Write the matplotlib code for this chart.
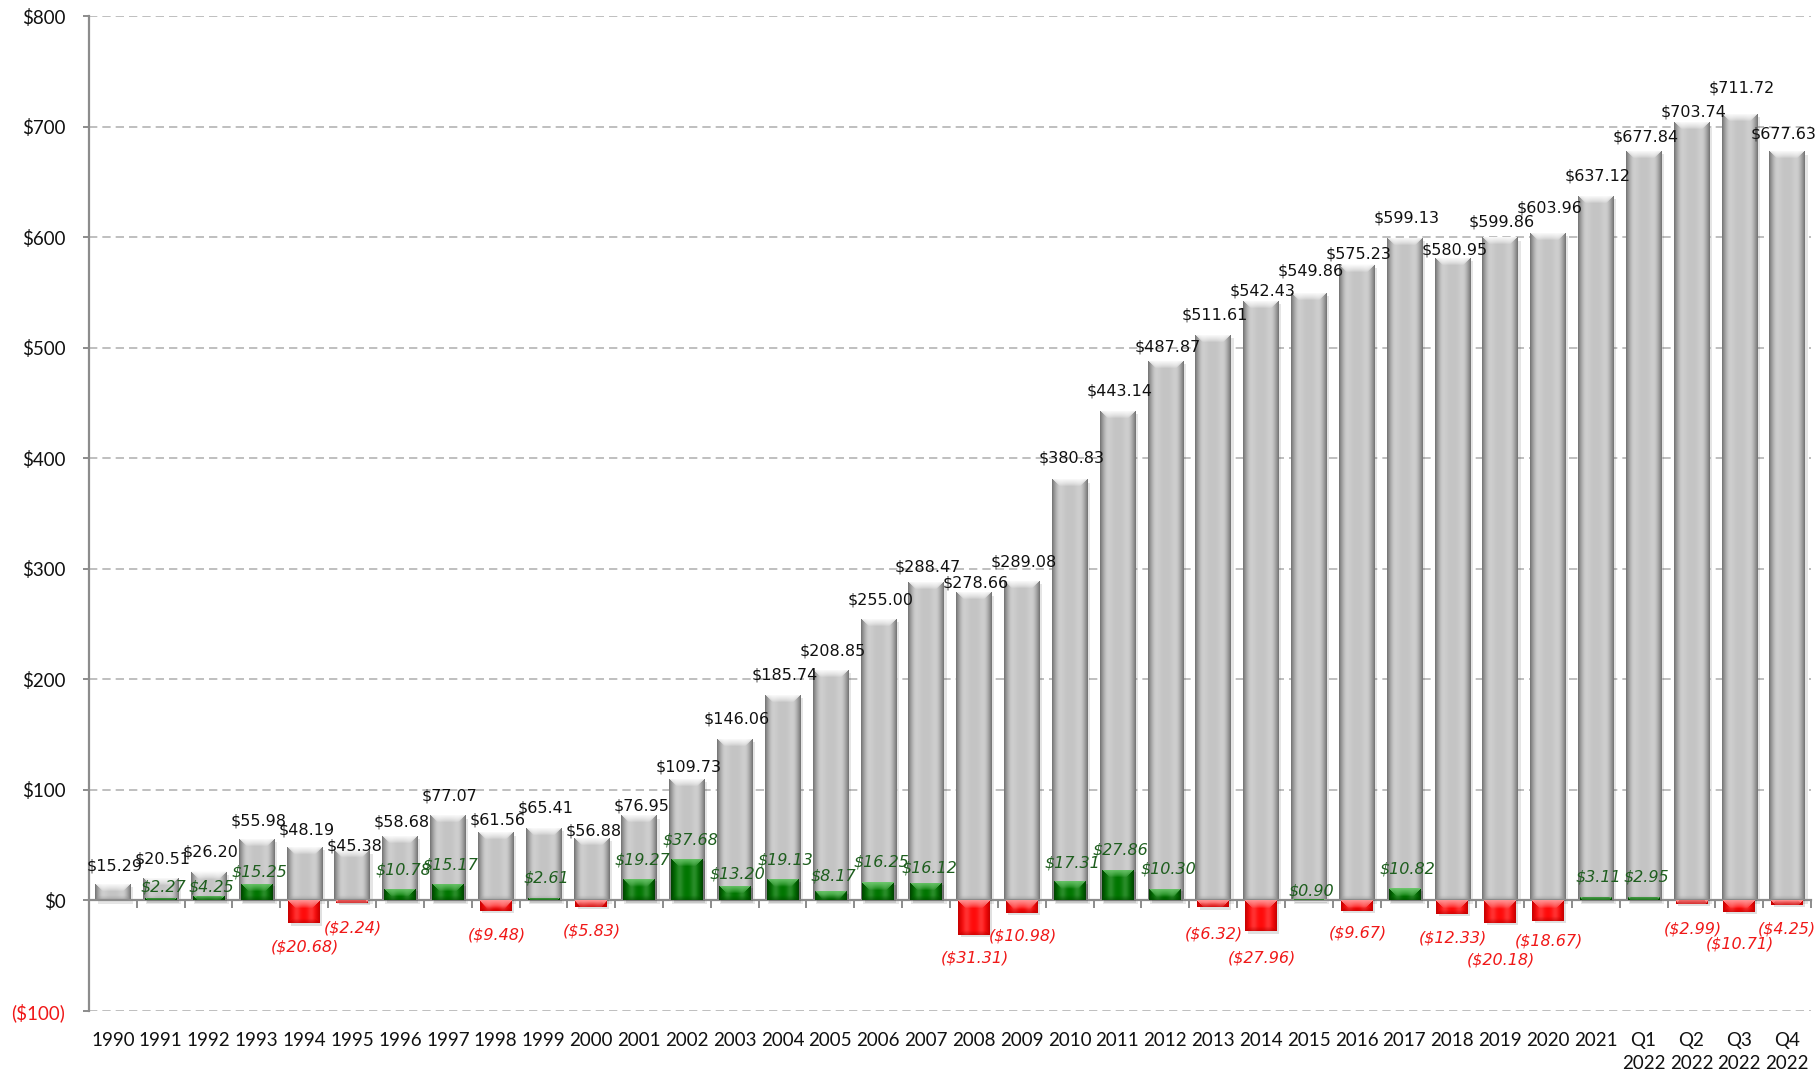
import numpy as np
import matplotlib
matplotlib.use("Agg")
import matplotlib.pyplot as plt
from matplotlib.ticker import FuncFormatter, FixedLocator

# ---------------- data ----------------
categories = ["1990", "1991", "1992", "1993", "1994", "1995", "1996", "1997", "1998", "1999",
              "2000", "2001", "2002", "2003", "2004", "2005", "2006", "2007", "2008", "2009",
              "2010", "2011", "2012", "2013", "2014", "2015", "2016", "2017", "2018", "2019",
              "2020", "2021", "Q1\n2022", "Q2\n2022", "Q3\n2022", "Q4\n2022"]
totals = [15.29, 20.51, 26.20, 55.98, 48.19, 45.38, 58.68, 77.07, 61.56, 65.41,
          56.88, 76.95, 109.73, 146.06, 185.74, 208.85, 255.00, 288.47, 278.66, 289.08,
          380.83, 443.14, 487.87, 511.61, 542.43, 549.86, 575.23, 599.13, 580.95, 599.86,
          603.96, 637.12, 677.84, 703.74, 711.72, 677.63]
changes = [np.nan, 2.27, 4.25, 15.25, -20.68, -2.24, 10.78, 15.17, -9.48, 2.61,
           -5.83, 19.27, 37.68, 13.20, 19.13, 8.17, 16.25, 16.12, -31.31, -10.98,
           17.31, 27.86, 10.30, -6.32, -27.96, 0.90, -9.67, 10.82, -12.33, -20.18,
           -18.67, 3.11, 2.95, -2.99, -10.71, -4.25]
y_ticks = [-100, 0, 100, 200, 300, 400, 500, 600, 700, 800]

# label gaps (pixels) from bar end to label centre, mimicking the reference's staggered labels
total_label_gap_px = [18, 19, 19, 18, 17, 4, 14, 19, 12, 20,
                      7, 9, 12, 20, 20, 19, 19, 15, 9, 19,
                      21, 20, 14, 20, 10, 22, 10, 20, 8, 15,
                      25, 20, 14, 10, 26, 17]
change_label_gap_px = [0, 11, 9, 12, 24, 25, 19, 19, 24, 20,
                       24, 19, 19, 12, 19, 15, 20, 15, 23, 23,
                       18, 20, 20, 27, 27, 8, 22, 19, 24, 37,
                       20, 20, 20, 25, 32, 24]

# ---------------- figure ----------------
W, H = 1818, 1072
fig = plt.figure(figsize=(W / 100, H / 100), dpi=100)
ax = fig.add_axes([89 / W, 1 - 1011 / H, (1811 - 89) / W, (1011 - 16) / H])
n = len(categories)
x = np.arange(n)
ax.set_xlim(-0.5, n - 0.5)
ax.set_ylim(-100, 800)
ax.set_autoscale_on(False)
PX2PT = 72 / 100

# grid
for v in y_ticks:
    if v != 0:
        ax.axhline(v, color="#b4b4b4", lw=1.2, ls=(0, (5, 3)), zorder=0.5)

GRAY = dict(base=np.array([196, 196, 196]) / 255, light=np.array([255, 255, 255]) / 255,
            dark=np.array([112, 112, 112]) / 255, bottom=np.array([150, 150, 150]) / 255)
GREEN = dict(base=np.array([0, 118, 0]) / 255, light=np.array([110, 200, 110]) / 255,
             dark=np.array([0, 65, 0]) / 255, bottom=np.array([0, 75, 0]) / 255)
RED = dict(base=np.array([255, 10, 10]) / 255, light=np.array([255, 150, 150]) / 255,
           dark=np.array([195, 0, 0]) / 255, bottom=np.array([185, 0, 0]) / 255)


def bevel_image(wpx, hpx, pal, bw=8.0):
    wpx = max(int(round(wpx)), 2)
    hpx = max(int(round(hpx)), 1)
    xs = np.arange(wpx) + 0.5
    ys = np.arange(hpx) + 0.5
    X, Y = np.meshgrid(xs, ys)
    dside = np.minimum(X, wpx - X)
    dtop = Y
    dbot = hpx - Y
    img = np.tile(pal["base"], (hpx, wpx, 1)).astype(float)
    s = np.clip(1 - dside / (bw * 0.9), 0, 1) ** 1.5
    img = img * (1 - s[..., None]) + pal["dark"] * s[..., None]
    band = np.exp(-((dside - bw * 1.1) / (bw * 0.45)) ** 2) * 0.16
    img = img * (1 - band[..., None]) + 1.0 * band[..., None]
    top_mask = (dtop < bw) & (dtop <= dside)
    t = np.clip(1 - dtop / bw, 0, 1) ** 0.7
    tt = np.where(top_mask, t, 0)
    img = img * (1 - tt[..., None]) + pal["light"] * tt[..., None]
    b = np.where((dbot < bw * 0.6) & (dbot < dside), np.clip(1 - dbot / (bw * 0.6), 0, 1) * 0.6, 0)
    img = img * (1 - b[..., None]) + pal["bottom"] * b[..., None]
    return np.clip(img, 0, 1)


def draw_bars(xpos, vals, width, pal, z):
    bars = ax.bar(xpos, vals, width=width, color=pal["base"], edgecolor="none", zorder=z)
    for rect, v in zip(bars.patches, vals):
        if np.isnan(v) or v == 0:
            continue
        x0, x1 = rect.get_x(), rect.get_x() + rect.get_width()
        y0, y1 = sorted([rect.get_y(), rect.get_y() + rect.get_height()])
        p0 = ax.transData.transform((x0, y0))
        p1 = ax.transData.transform((x1, y1))
        img = bevel_image(p1[0] - p0[0], p1[1] - p0[1], pal)
        im = ax.imshow(img, extent=[x0, x1, y0, y1], origin="upper", aspect="auto",
                       interpolation="bilinear", zorder=z + 0.1)
        im.set_clip_path(rect)
    return bars


# shadows
ax.bar(x + 0.06, totals, width=0.74, bottom=-3, color="#000000", alpha=0.10, edgecolor="none", zorder=1.5)
draw_bars(x, totals, 0.74, GRAY, 2)

chg = np.array(changes, dtype=float)
pos_mask = chg > 0
neg_mask = chg < 0
ax.bar(x[pos_mask] + 0.05, chg[pos_mask], width=0.66, bottom=-2, color="#000000", alpha=0.12,
       edgecolor="none", zorder=2.9)
draw_bars(x[pos_mask], chg[pos_mask], 0.66, GREEN, 3)
ax.bar(x[neg_mask] + 0.05, chg[neg_mask] - 2, width=0.66, color="#000000", alpha=0.12,
       edgecolor="none", zorder=2.9)
draw_bars(x[neg_mask], chg[neg_mask], 0.66, RED, 3)

# ---------------- labels ----------------
texts = []
for xi, v, gap in zip(x, totals, total_label_gap_px):
    t = ax.annotate(f"${v:,.2f}", (xi, v), xytext=(2 * PX2PT, gap * PX2PT), textcoords="offset points",
                    ha="center", va="center", fontsize=11.5, color="#111111",
                    family="DejaVu Sans", zorder=6)
    texts.append(t)

for xi, v, gap in zip(x, chg, change_label_gap_px):
    if np.isnan(v):
        continue
    if v > 0:
        t = ax.annotate(f"${v:,.2f}", (xi, v), xytext=(3 * PX2PT, gap * PX2PT), textcoords="offset points",
                        ha="center", va="center", fontsize=11.5, color="#1e5e1e",
                        family="DejaVu Sans", style="italic", zorder=6)
    else:
        t = ax.annotate(f"(${abs(v):,.2f})", (xi, v), xytext=(1 * PX2PT, -gap * PX2PT),
                        textcoords="offset points", ha="center", va="center", fontsize=11.5,
                        color="#f01818", family="DejaVu Sans", style="italic", zorder=6)
    texts.append(t)

# ---------------- axes styling ----------------
for s in ["top", "right"]:
    ax.spines[s].set_visible(False)
ax.spines["left"].set_color("#8c8c8c")
ax.spines["left"].set_linewidth(1.6)
ax.spines["bottom"].set_position(("data", 0))
ax.spines["bottom"].set_color("#8c8c8c")
ax.spines["bottom"].set_linewidth(1.6)
ax.spines["bottom"].set_zorder(2.5)

ax.set_yticks(y_ticks)


def yfmt(v, _):
    return f"(${abs(v):,.0f})" if v < 0 else f"${v:,.0f}"


ax.yaxis.set_major_formatter(FuncFormatter(yfmt))
ax.tick_params(axis="y", length=4, width=1.4, color="#8c8c8c", pad=13, labelsize=13.5)
for lab in ax.get_yticklabels():
    lab.set_family("Lato")
    lab.set_color("#f01818" if lab.get_text().startswith("(") else "#111111")

ax.xaxis.set_major_locator(FixedLocator(np.arange(n + 1) - 0.5))
ax.tick_params(axis="x", which="major", length=6, width=1.4, color="#8c8c8c", labelbottom=False)

sec = ax.secondary_xaxis(0)
sec.set_xticks(x, categories)
sec.tick_params(length=0, pad=15, labelsize=13.5)
sec.spines["bottom"].set_visible(False)
for lab in sec.get_xticklabels():
    lab.set_family("Lato")
    lab.set_linespacing(1.45)
    lab.set_verticalalignment("top")
    lab.set_color("#111111")

# keep labels inside the figure
fig.canvas.draw()
renderer = fig.canvas.get_renderer()
for t in texts:
    bb = t.get_window_extent(renderer)
    if bb.x1 > W - 2:
        dx, dy = t.get_position() if False else t.xyann
        t.xyann = (dx - (bb.x1 - (W - 2)) * PX2PT, dy)

fig.savefig("out.png", dpi=100)
